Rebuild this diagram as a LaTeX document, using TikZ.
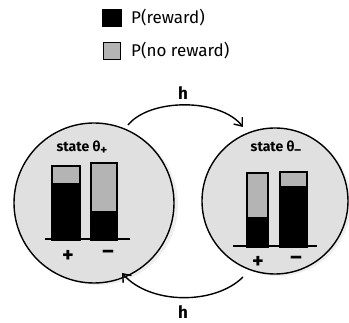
\documentclass[tikz,border=0pt]{standalone}
\usepackage{fontspec}
\setmainfont{Fira Sans}
\usetikzlibrary{arrows.meta}
\definecolor{circfill}{HTML}{E0E0E0}
\definecolor{shadowc}{HTML}{EEEEEE}
\definecolor{barg}{HTML}{B4B4B4}
\tikzset{
  statecirc/.style={circle, draw=black, line width=1.4pt, fill=circfill, inner sep=0pt},
  bargray/.style={draw=black, line width=1.2pt, fill=barg},
  barblack/.style={draw=black, line width=1.2pt, fill=black},
  baseline/.style={line width=1.2pt},
  lbl/.style={font=\fontsize{14}{16}\selectfont\bfseries, inner sep=1pt},
  sign/.style={font=\fontsize{22}{24}\selectfont\bfseries, inner sep=1pt},
  leg/.style={font=\fontsize{17}{20}\selectfont, anchor=west, inner sep=0pt},
  trans/.style={line width=1.4pt, -{Straight Barb[length=7pt,width=11pt,line width=1.4pt]}},
}
\newcommand{\subsgn}[1]{\raisebox{-0.4ex}{\fontsize{13}{13}\selectfont #1}}
\begin{document}
\begin{tikzpicture}[x=1pt,y=-1pt]
\useasboundingbox (0,0) rectangle (349,323);
% legend
\node[draw=black, fill=black, minimum width=19pt, minimum height=17pt, inner sep=0pt] (lb) at (112,18) {};
\node[leg] (lt1) at (131,18) {P(reward)};
\node[draw=black, line width=1.2pt, fill=barg, minimum width=17pt, minimum height=17pt, inner sep=0pt] (lg) at (112,51) {};
\node[leg] (lt2) at (131,51) {P(no reward)};
% shadows
\fill[shadowc] (98,205) circle (80);
\fill[shadowc] (278,203) circle (73);
% circles
\node[statecirc, minimum size=160pt] (L) at (94,203) {};
\node[statecirc, minimum size=146pt] (R) at (275,201) {};
% anchors for transitions
\coordinate (a1) at (128,125);
\coordinate (a2) at (243,127);
\coordinate (b1) at (243,277);
\coordinate (b2) at (122,273);
% left state
\node[lbl] (tL) at (82,148) {state θ\subsgn{+}};
\draw[bargray] (52,166) rectangle (80,184);
\draw[barblack] (52,184) rectangle (80,240);
\draw[bargray] (91,163) rectangle (117,212);
\draw[barblack] (91,212) rectangle (117,240);
\draw[baseline] (45,239) -- (130,239);
\node[sign] (pL) at (68,256) {+};
\node[sign] (mL) at (108,254) {–};
% right state
\node[lbl] (tR) at (276,148) {state θ\subsgn{–}};
\draw[bargray] (247,173) rectangle (268,218);
\draw[barblack] (247,218) rectangle (268,247);
\draw[bargray] (280,172) rectangle (307,187);
\draw[barblack] (280,187) rectangle (307,247);
\draw[baseline] (233,246) -- (317,246);
\node[sign] (pR) at (258,262) {+};
\node[sign] (mR) at (296,260) {–};
% transitions
\draw[trans] (a1) .. controls (150,98) and (220,98) .. (a2);
\draw[trans] (b1) .. controls (215,305) and (150,305) .. (b2);
\node[lbl, font=\fontsize{17}{19}\selectfont\bfseries] (h1) at (183,93) {h};
\node[lbl, font=\fontsize{17}{19}\selectfont\bfseries] (h2) at (183,312) {h};
\end{tikzpicture}
\end{document}
